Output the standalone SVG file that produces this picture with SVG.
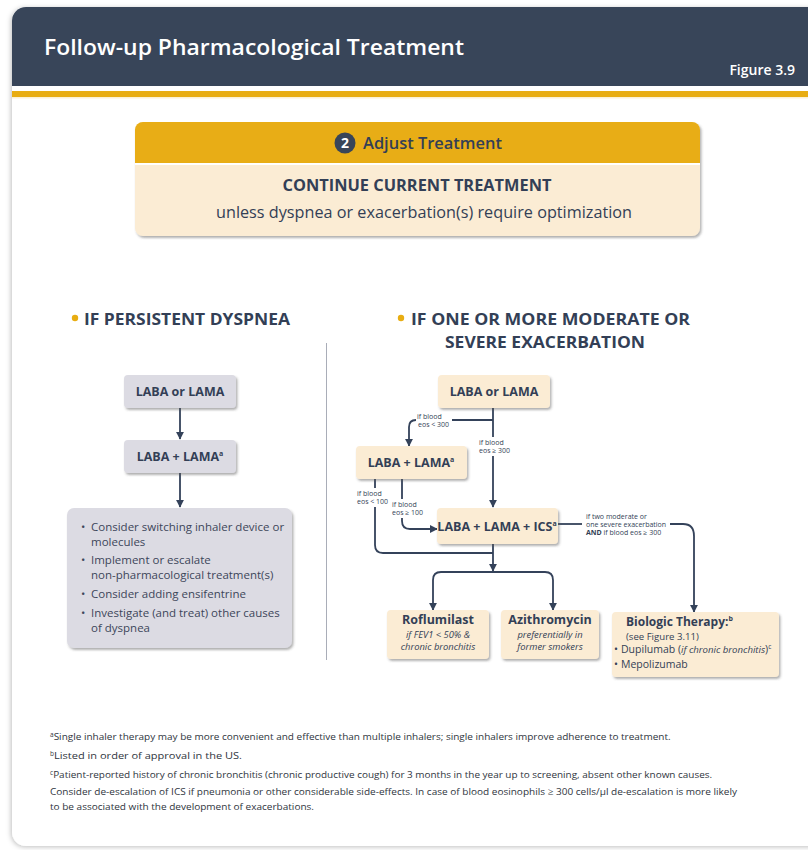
<svg xmlns="http://www.w3.org/2000/svg" width="808" height="850" viewBox="0 0 808 850">
  <style>
    .sans { font-family: "Open Sans", "Noto Sans", "Liberation Sans", sans-serif; }
    .navy { fill: #333f56; }
    .bold { font-weight: 700; }
    .semi { font-weight: 600; }
    .pale { fill: #fbecd4; }
    .gray { fill: #dcdbe3; }
    .conn { stroke: #34425a; stroke-width: 1.8; fill: none; }
    .lbl { font-family: "Open Sans", "Noto Sans", sans-serif; font-size: 7px; fill: #333f56; }
    .lblbg { fill: #ffffff; }
    .boxlbl { font-family: "Open Sans", "Noto Sans", sans-serif; font-size: 12.5px; font-weight: 700; fill: #333f56; text-anchor: middle; }
    .body { font-family: "Open Sans", "Noto Sans", sans-serif; font-size: 11.5px; fill: #3c465a; }
    .foot { font-family: "Open Sans", "Noto Sans", sans-serif; font-size: 9.6px; fill: #2f3540; }
    .it { font-style: italic; }
  </style>
  <defs>
    <filter id="cardShadow" x="-5%" y="-5%" width="110%" height="110%">
      <feDropShadow dx="-1" dy="1" stdDeviation="2.5" flood-color="#000" flood-opacity="0.25"/>
    </filter>
    <filter id="boxShadow" x="-10%" y="-10%" width="125%" height="130%">
      <feDropShadow dx="1.5" dy="2" stdDeviation="1.3" flood-color="#555" flood-opacity="0.45"/>
    </filter>
    <clipPath id="cardClip">
      <rect x="12" y="7" width="820" height="839" rx="14"/>
    </clipPath>
    <marker id="arrow" viewBox="0 0 10 10" refX="9" refY="5" markerWidth="4.6" markerHeight="4.6" orient="auto" markerUnits="strokeWidth">
      <path d="M0,0 L10,5 L0,10 Z" fill="#34425a"/>
    </marker>
  </defs>

  <!-- page card -->
  <rect x="0" y="0" width="808" height="850" fill="#ffffff"/>
  <rect x="12" y="7" width="820" height="839" rx="14" fill="#ffffff" filter="url(#cardShadow)"/>
  <g clip-path="url(#cardClip)">
    <rect x="12" y="7" width="820" height="79" fill="#384559"/>
    <rect x="12" y="91" width="820" height="6" fill="#e8ad12"/>
    <rect x="12" y="97" width="820" height="1.5" fill="#fbf1d6"/>
  </g>

  <!-- header -->
  <g id="header">
    <text x="44" y="55" class="sans semi" font-size="22" fill="#ffffff" textLength="420" lengthAdjust="spacingAndGlyphs">Follow-up Pharmacological Treatment</text>
    <text x="795" y="75" class="sans semi" font-size="14" fill="#ffffff" text-anchor="end">Figure 3.9</text>
  </g>

  <!-- adjust treatment panel -->
  <g id="adjust" filter="url(#boxShadow)">
    <rect x="135" y="122" width="565" height="114" rx="8" class="pale"/>
    <path d="M135,163 V130 a8,8 0 0 1 8,-8 H692 a8,8 0 0 1 8,8 V163 Z" fill="#e8ad12"/>
  </g>
  <g id="adjust-text">
    <rect x="135" y="163" width="565" height="2" fill="#ffffff"/>
    <circle cx="345" cy="143" r="10.5" fill="#384559"/>
    <text x="345" y="148" class="sans bold" font-size="14" fill="#ffffff" text-anchor="middle">2</text>
    <text x="363" y="149" class="sans semi navy" font-size="16.5" textLength="139" lengthAdjust="spacingAndGlyphs">Adjust Treatment</text>
    <text x="417" y="191" class="sans bold navy" font-size="15.5" text-anchor="middle" textLength="269" lengthAdjust="spacingAndGlyphs">CONTINUE CURRENT TREATMENT</text>
    <text x="424" y="218" class="sans navy" font-size="15.5" text-anchor="middle" textLength="416" lengthAdjust="spacingAndGlyphs">unless dyspnea or exacerbation(s) require optimization</text>
  </g>

  <!-- section headings -->
  <g id="heading-left">
    <circle cx="75" cy="318" r="3.2" fill="#e8ad12"/>
    <text x="84" y="325" class="sans bold navy" font-size="16.5" textLength="206" lengthAdjust="spacingAndGlyphs">IF PERSISTENT DYSPNEA</text>
  </g>
  <g id="heading-right">
    <circle cx="401" cy="318" r="3.2" fill="#e8ad12"/>
    <text x="411" y="325" class="sans bold navy" font-size="16.5" textLength="279" lengthAdjust="spacingAndGlyphs">IF ONE OR MORE MODERATE OR</text>
    <text x="545" y="348" class="sans bold navy" font-size="16.5" text-anchor="middle" textLength="200" lengthAdjust="spacingAndGlyphs">SEVERE EXACERBATION</text>
  </g>
  <line x1="326.5" y1="343" x2="326.5" y2="660" stroke="#a9adb8" stroke-width="1"/>

  <!-- connectors -->
  <g id="connectors">
    <!-- left column -->
    <line x1="180" y1="408" x2="180" y2="439" class="conn" marker-end="url(#arrow)"/>
    <line x1="180" y1="473" x2="180" y2="507" class="conn" marker-end="url(#arrow)"/>
    <!-- right column -->
    <line x1="493" y1="408" x2="493" y2="507" class="conn" marker-end="url(#arrow)"/>
    <path d="M493,420 H452" class="conn"/>
    <path d="M416,420 Q409,420 409,427 V446" class="conn" marker-end="url(#arrow)"/>
    <path d="M375,479 V545 Q375,553 383,553 H493" class="conn"/>
    <path d="M402,479 V521 Q402,529 410,529 H437" class="conn" marker-end="url(#arrow)"/>
    <line x1="493" y1="544" x2="493" y2="571" class="conn" marker-end="url(#arrow)"/>
    <path d="M493,572 H441 Q433,572 433,580 V610" class="conn" marker-end="url(#arrow)"/>
    <path d="M493,572 H545 Q553,572 553,580 V610" class="conn" marker-end="url(#arrow)"/>
    <path d="M558,524 H582" class="conn"/>
    <path d="M670,524 H683 Q694,524 694,536 V612" class="conn" marker-end="url(#arrow)"/>
  </g>

  <!-- edge labels (white backing breaks the lines they sit on) -->
  <g id="edge-labels">
    <text x="417" y="419" class="lbl">if blood</text>
    <text x="418" y="427" class="lbl">eos &lt; 300</text>
    <rect x="478" y="437" width="33" height="19" class="lblbg"/>
    <text x="479" y="445" class="lbl">if blood</text>
    <text x="479" y="453" class="lbl">eos ≥ 300</text>
    <rect x="356" y="488" width="32" height="19" class="lblbg"/>
    <text x="357" y="496" class="lbl">if blood</text>
    <text x="357" y="504" class="lbl">eos &lt; 100</text>
    <rect x="391" y="499" width="33" height="19" class="lblbg"/>
    <text x="392" y="507" class="lbl">if blood</text>
    <text x="392" y="515" class="lbl">eos ≥ 100</text>
    <text x="586" y="519" class="lbl">if two moderate or</text>
    <text x="586" y="527" class="lbl">one severe exacerbation</text>
    <text x="586" y="535" class="lbl"><tspan font-weight="700">AND</tspan> if blood eos ≥ 300</text>
  </g>

  <!-- left column nodes -->
  <g id="left-laba-or-lama">
    <rect x="124" y="375" width="112" height="33" rx="4" class="gray" filter="url(#boxShadow)"/>
    <text x="180" y="396" class="boxlbl">LABA or LAMA</text>
  </g>
  <g id="left-laba-lama">
    <rect x="124" y="440" width="112" height="33" rx="4" class="gray" filter="url(#boxShadow)"/>
    <text x="180" y="461" class="boxlbl">LABA + LAMA<tspan font-size="7" dy="-5">a</tspan></text>
  </g>
  <g id="left-options">
    <rect x="67" y="508" width="225" height="140" rx="7" class="gray" filter="url(#boxShadow)"/>
    <text class="body">
      <tspan x="81" y="531">•</tspan><tspan x="91" y="531">Consider switching inhaler device or</tspan>
      <tspan x="91" y="546">molecules</tspan>
      <tspan x="81" y="564">•</tspan><tspan x="91" y="564">Implement or escalate</tspan>
      <tspan x="91" y="579">non-pharmacological treatment(s)</tspan>
      <tspan x="81" y="598">•</tspan><tspan x="91" y="598">Consider adding ensifentrine</tspan>
      <tspan x="81" y="617">•</tspan><tspan x="91" y="617">Investigate (and treat) other causes</tspan>
      <tspan x="91" y="632">of dyspnea</tspan>
    </text>
  </g>

  <!-- right column nodes -->
  <g id="right-laba-or-lama">
    <rect x="438" y="375" width="112" height="33" rx="4" class="pale" filter="url(#boxShadow)"/>
    <text x="494" y="396" class="boxlbl">LABA or LAMA</text>
  </g>
  <g id="right-laba-lama">
    <rect x="356" y="446" width="111" height="33" rx="4" class="pale" filter="url(#boxShadow)"/>
    <text x="411" y="467" class="boxlbl">LABA + LAMA<tspan font-size="7" dy="-5">a</tspan></text>
  </g>
  <g id="right-triple">
    <rect x="437" y="508" width="121" height="36" rx="4" class="pale" filter="url(#boxShadow)"/>
    <text x="497" y="531" class="boxlbl" font-size="13">LABA + LAMA + ICS<tspan font-size="7" dy="-5">a</tspan></text>
  </g>
  <g id="roflumilast">
    <rect x="387" y="610" width="102" height="49" rx="4" class="pale" filter="url(#boxShadow)"/>
    <text x="438" y="624" class="boxlbl" font-size="12">Roflumilast</text>
    <text x="438" y="638" class="sans it navy" font-size="9.4" text-anchor="middle">if FEV1 &lt; 50% &amp;</text>
    <text x="438" y="650" class="sans it navy" font-size="9.4" text-anchor="middle">chronic bronchitis</text>
  </g>
  <g id="azithromycin">
    <rect x="501" y="610" width="98" height="49" rx="4" class="pale" filter="url(#boxShadow)"/>
    <text x="550" y="624" class="boxlbl" font-size="12">Azithromycin</text>
    <text x="550" y="638" class="sans it navy" font-size="9.4" text-anchor="middle">preferentially in</text>
    <text x="550" y="650" class="sans it navy" font-size="9.4" text-anchor="middle">former smokers</text>
  </g>
  <g id="biologic">
    <rect x="612" y="612" width="167" height="65" rx="4" class="pale" filter="url(#boxShadow)"/>
    <text x="626" y="626" class="sans bold navy" font-size="12">Biologic Therapy:<tspan font-size="7" dy="-5">b</tspan></text>
    <text x="626" y="639.5" class="sans navy" font-size="9.6">(see Figure 3.11)</text>
    <text x="614" y="653" class="sans navy" font-size="10.5">•</text>
    <text x="621" y="653" class="sans navy" font-size="10.5">Dupilumab (<tspan class="it" font-size="9.6">if chronic bronchitis</tspan>)<tspan font-size="6.5" dy="-4">c</tspan></text>
    <text x="614" y="668" class="sans navy" font-size="10.5">•</text>
    <text x="621" y="668" class="sans navy" font-size="10.5">Mepolizumab</text>
  </g>

  <!-- footnotes -->
  <g id="footnotes">
    <text x="50" y="740" class="foot"><tspan font-size="6.5" dy="-3">a</tspan><tspan dy="3" textLength="617" lengthAdjust="spacingAndGlyphs">Single inhaler therapy may be more convenient and effective than multiple inhalers; single inhalers improve adherence to treatment.</tspan></text>
    <text x="50" y="759" class="foot"><tspan font-size="6.5" dy="-3">b</tspan><tspan dy="3" textLength="188" lengthAdjust="spacingAndGlyphs">Listed in order of approval in the US.</tspan></text>
    <text x="50" y="778" class="foot"><tspan font-size="6.5" dy="-3">c</tspan><tspan dy="3" textLength="659" lengthAdjust="spacingAndGlyphs">Patient-reported history of chronic bronchitis (chronic productive cough) for 3 months in the year up to screening, absent other known causes.</tspan></text>
    <text x="50" y="795" class="foot" textLength="687" lengthAdjust="spacingAndGlyphs">Consider de-escalation of ICS if pneumonia or other considerable side-effects. In case of blood eosinophils ≥ 300 cells/µl de-escalation is more likely</text>
    <text x="50" y="810" class="foot" textLength="264" lengthAdjust="spacingAndGlyphs">to be associated with the development of exacerbations.</text>
  </g>
</svg>
